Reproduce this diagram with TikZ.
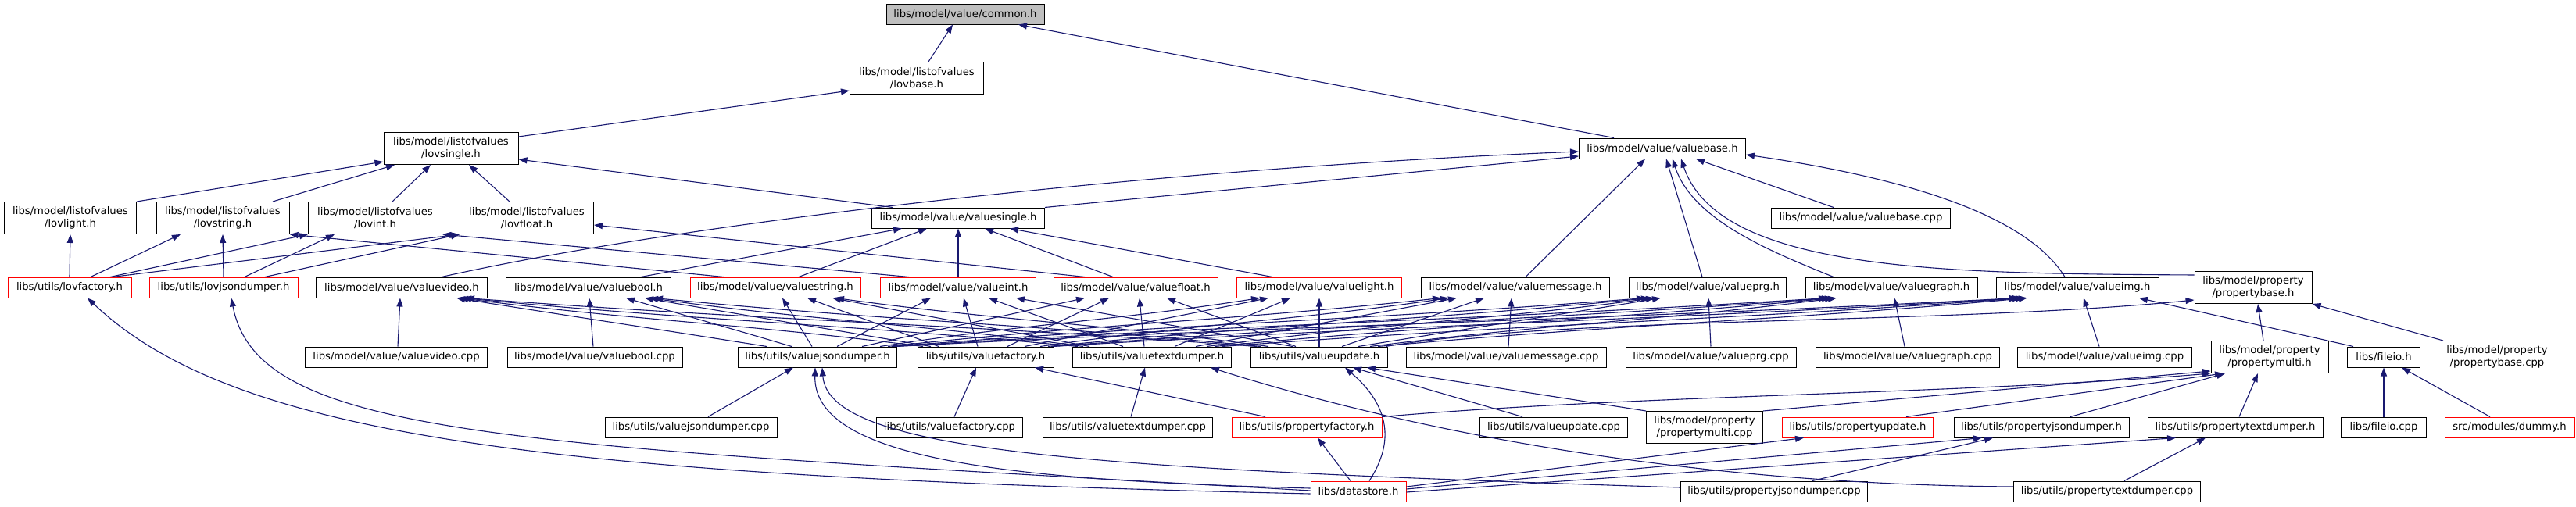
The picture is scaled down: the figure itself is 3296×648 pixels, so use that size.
\documentclass[tikz,border=0pt]{standalone}
\usepackage{fontspec}
\setmainfont{DejaVu Sans}
\usetikzlibrary{arrows.meta}
\definecolor{eblue}{HTML}{191970}
\definecolor{nred}{HTML}{FF0000}
\definecolor{ngray}{HTML}{BFBFBF}
\begin{document}
\begin{tikzpicture}[x=1pt,y=-1pt,
  box/.style={draw=black, line width=1pt, fill=white, inner sep=0pt, minimum height=26pt, font=\fontsize{13.2}{15.5}\selectfont},
  boxtwo/.style={box, minimum height=41pt, align=center},
  redb/.style={draw=nred},
  e/.style={draw=eblue, line width=1.1pt, {Triangle[length=11pt,width=8pt]}-}]
\useasboundingbox (0,0) rectangle (3296,648);
% nodes
\node[box, fill=ngray, minimum width=202pt] (common) at (1235,18) {libs/model/value/common.h};
\node[boxtwo, minimum width=171pt] (lovbase) at (1173,100) {libs/model/listofvalues\\/lovbase.h};
\node[boxtwo, minimum width=172pt] (lovsingle) at (577,190) {libs/model/listofvalues\\/lovsingle.h};
\node[box, minimum width=213pt] (valuebase) at (2127,190) {libs/model/value/valuebase.h};
\node[boxtwo, minimum width=169pt] (lovlight) at (90,279) {libs/model/listofvalues\\/lovlight.h};
\node[boxtwo, minimum width=170pt] (lovstring) at (285,279) {libs/model/listofvalues\\/lovstring.h};
\node[boxtwo, minimum width=171pt] (lovint) at (480,279) {libs/model/listofvalues\\/lovint.h};
\node[boxtwo, minimum width=171pt] (lovfloat) at (674,279) {libs/model/listofvalues\\/lovfloat.h};
\node[box, minimum width=221pt] (vsingle) at (1226,279) {libs/model/value/valuesingle.h};
\node[box, minimum width=229pt] (vbasecpp) at (2381,279) {libs/model/value/valuebase.cpp};
\node[box, redb, minimum width=158pt] (lovfactory) at (89,368) {libs/utils/lovfactory.h};
\node[box, redb, minimum width=190pt] (lovjson) at (286,368) {libs/utils/lovjsondumper.h};
\node[box, minimum width=219pt] (vvideo) at (514,368) {libs/model/value/valuevideo.h};
\node[box, minimum width=211pt] (vbool) at (753,368) {libs/model/value/valuebool.h};
\node[box, redb, minimum width=218pt] (vstring) at (992,368) {libs/model/value/valuestring.h};
\node[box, redb, minimum width=199pt] (vint) at (1226,368) {libs/model/value/valueint.h};
\node[box, redb, minimum width=210pt] (vfloat) at (1453,368) {libs/model/value/valuefloat.h};
\node[box, redb, minimum width=211pt] (vlight) at (1688,368) {libs/model/value/valuelight.h};
\node[box, minimum width=241pt] (vmsg) at (1939,368) {libs/model/value/valuemessage.h};
\node[box, minimum width=201pt] (vprg) at (2185,368) {libs/model/value/valueprg.h};
\node[box, minimum width=220pt] (vgraph) at (2420,368) {libs/model/value/valuegraph.h};
\node[box, minimum width=208pt] (vimg) at (2658,368) {libs/model/value/valueimg.h};
\node[boxtwo, minimum width=150pt] (pbase) at (2883,368) {libs/model/property\\/propertybase.h};
\node[box, minimum width=233pt] (vvideocpp) at (507,457) {libs/model/value/valuevideo.cpp};
\node[box, minimum width=224pt] (vboolcpp) at (761,457) {libs/model/value/valuebool.cpp};
\node[box, minimum width=203pt] (vjson) at (1046,457) {libs/utils/valuejsondumper.h};
\node[box, minimum width=174pt] (vfact) at (1261,457) {libs/utils/valuefactory.h};
\node[box, minimum width=203pt] (vtext) at (1474,457) {libs/utils/valuetextdumper.h};
\node[box, minimum width=175pt] (vupd) at (1688,457) {libs/utils/valueupdate.h};
\node[box, minimum width=256pt] (vmsgcpp) at (1927,457) {libs/model/value/valuemessage.cpp};
\node[box, minimum width=218pt] (vprgcpp) at (2189,457) {libs/model/value/valueprg.cpp};
\node[box, minimum width=235pt] (vgraphcpp) at (2441,457) {libs/model/value/valuegraph.cpp};
\node[box, minimum width=223pt] (vimgcpp) at (2693,457) {libs/model/value/valueimg.cpp};
\node[boxtwo, minimum width=150pt] (pmulti) at (2904,457) {libs/model/property\\/propertymulti.h};
\node[box, minimum width=93pt] (fileio) at (3050,457) {libs/fileio.h};
\node[boxtwo, minimum width=151pt] (pbasecpp) at (3195,457) {libs/model/property\\/propertybase.cpp};
\node[box, minimum width=220pt] (vjsoncpp) at (884,547) {libs/utils/valuejsondumper.cpp};
\node[box, minimum width=187pt] (vfactcpp) at (1215,547) {libs/utils/valuefactory.cpp};
\node[box, minimum width=217pt] (vtextcpp) at (1443,547) {libs/utils/valuetextdumper.cpp};
\node[box, redb, minimum width=192pt] (pfact) at (1672,547) {libs/utils/propertyfactory.h};
\node[box, minimum width=189pt] (vupdcpp) at (1988,547) {libs/utils/valueupdate.cpp};
\node[boxtwo, minimum width=149pt] (pmulticpp) at (2181,547) {libs/model/property\\/propertymulti.cpp};
\node[box, redb, minimum width=193pt] (pupd) at (2377,547) {libs/utils/propertyupdate.h};
\node[box, minimum width=224pt] (pjson) at (2612,547) {libs/utils/propertyjsondumper.h};
\node[box, minimum width=224pt] (ptext) at (2860,547) {libs/utils/propertytextdumper.h};
\node[box, minimum width=109pt] (fileiocpp) at (3050,547) {libs/fileio.cpp};
\node[box, redb, minimum width=166pt] (dummy) at (3211,547) {src/modules/dummy.h};
\node[box, redb, minimum width=122pt] (datastore) at (1738,629) {libs/datastore.h};
\node[box, minimum width=239pt] (pjsoncpp) at (2270,629) {libs/utils/propertyjsondumper.cpp};
\node[box, minimum width=239pt] (ptextcpp) at (2696,629) {libs/utils/propertytextdumper.cpp};
% upper edges
\draw[e] ([xshift=-16pt]common.south) -- ([xshift=15pt]lovbase.north);
\draw[e] ([xshift=68pt]common.south) -- ([xshift=-62pt]valuebase.north);
\draw[e] ([yshift=-16pt]lovbase.west) -- ([yshift=15pt]lovsingle.east);
\draw[e] ([yshift=-17pt]lovsingle.west) -- (lovlight.north east);
\draw[e] ([xshift=-72pt]lovsingle.south) -- ([xshift=64pt]lovstring.north);
\draw[e] ([xshift=-26pt]lovsingle.south) -- ([xshift=22pt]lovint.north);
\draw[e] ([xshift=23pt]lovsingle.south) -- ([xshift=-22pt]lovfloat.north);
\draw[e] ([yshift=-14pt]lovsingle.east) -- ([xshift=-84pt]vsingle.north);
\draw[e] ([yshift=-10pt]valuebase.west) -- (vsingle.north east);
\draw[e] ([yshift=-4pt]valuebase.west) .. controls (1500,215) and (900,280) .. ([xshift=51pt]vvideo.north);
\draw[e] ([xshift=-22pt]valuebase.south) -- ([xshift=13pt]vmsg.north);
\draw[e] ([xshift=5pt]valuebase.south) -- ([xshift=-7pt]vprg.north);
\draw[e] ([xshift=13pt]valuebase.south) .. controls (2165,280) and (2260,320) .. ([xshift=-74pt]vgraph.north);
\draw[e] ([xshift=24pt]valuebase.south) .. controls (2200,350) and (2500,350) .. ([yshift=16pt]pbase.west);
\draw[e] ([xshift=43pt]valuebase.south) -- ([xshift=-35pt]vbasecpp.north);
\draw[e] ([yshift=-8pt]valuebase.east) .. controls (2420,225) and (2590,270) .. ([xshift=-16pt]vimg.north);
% lov edges
\draw[e] (lovlight.south) -- (lovfactory.north);
\draw[e] ([xshift=-54pt]lovstring.south) -- ([xshift=27pt]lovfactory.north);
\draw[e] (lovint.south west) -- ([xshift=52pt]lovfactory.north);
\draw[e] (lovfloat.south west) -- ([xshift=55pt]lovfactory.north);
\draw[e] (lovstring.south) -- (lovjson.north);
\draw[e] ([xshift=-52pt]lovint.south) -- ([xshift=27pt]lovjson.north);
\draw[e] (lovfloat.south west) -- ([xshift=53pt]lovjson.north);
\draw[e] (lovstring.south east) -- ([xshift=-66pt]vstring.north);
\draw[e] (lovint.south east) -- ([xshift=-63pt]vint.north);
\draw[e] ([yshift=-9pt]lovfloat.east) -- ([xshift=-65pt]vfloat.north);
% valuesingle
\draw[e] ([xshift=-72pt]vsingle.south) -- ([xshift=67pt]vbool.north);
\draw[e] ([xshift=-40pt]vsingle.south) -- ([xshift=30pt]vstring.north);
\draw[e] (vsingle.south) -- (vint.north);
\draw[e] ([xshift=34pt]vsingle.south) -- ([xshift=-29pt]vfloat.north);
\draw[e] ([xshift=66pt]vsingle.south) -- ([xshift=-60pt]vlight.north);
% cpp of value types
\draw[e] ([xshift=-2pt]vvideo.south) -- ([xshift=2pt]vvideocpp.north);
\draw[e] ([xshift=1pt]vbool.south) -- ([xshift=-2pt]vboolcpp.north);
\draw[e] ([xshift=-5pt]vmsg.south) -- ([xshift=3pt]vmsgcpp.north);
\draw[e] ([xshift=1pt]vprg.south) -- (vprgcpp.north);
\draw[e] ([xshift=4pt]vgraph.south) -- ([xshift=-4pt]vgraphcpp.north);
\draw[e] ([xshift=8pt]vimg.south) -- ([xshift=-7pt]vimgcpp.north);
\draw[e] ([xshift=79pt]vimg.south) -- ([xshift=-39pt]fileio.north);
\draw[e] ([xshift=6pt]pbase.south) -- ([xshift=-8pt]pmulti.north);
\draw[e] (pbase.south east) -- ([xshift=-69pt]pbasecpp.north);
\draw[e] (fileio.south) -- (fileiocpp.north);
\draw[e] ([xshift=23pt]fileio.south) -- ([xshift=-25pt]dummy.north);
% dumpers/factory/update -> value types
\foreach \u/\a/\l/\b/\c/\v in {
vvideo/70/vjson/-65/132/21, vvideo/74/vfact/-80/237/30, vvideo/78/vtext/-95/315/30, vvideo/82/vupd/-80/405/30,
vbool/48/vjson/-33/71/21, vbool/72/vfact/-70/122/21, vbool/78/vtext/-88/222/30, vbool/84/vupd/-75/310/30,
vstring/9/vjson/-7/13/21, vstring/41/vfact/-60/56/21, vstring/73/vtext/-80/110/21, vstring/77/vupd/-65/222/30,
vint/-35/vjson/25/-40/21, vint/7/vfact/-10/6/21, vint/39/vtext/-37/57/21, vint/74/vupd/-34/118/21,
vfloat/-65/vjson/57/-95/21, vfloat/-34/vfact/28/-43/21, vfloat/5/vtext/-10/2/21, vfloat/40/vupd/-30/55/21,
vlight/-76/vjson/80/-194/30, vlight/-65/vfact/50/-104/21, vlight/-37/vtext/29/-49/21, vlight/0/vupd/0/0/21,
vmsg/-95/vjson/90/-283/30, vmsg/-85/vfact/70/-209/30, vmsg/-75/vtext/56/-111/21, vmsg/-40/vupd/29/-61/21,
vprg/-80/vjson/95/-386/30, vprg/-74/vfact/80/-308/30, vprg/-68/vtext/70/-229/30, vprg/-60/vupd/50/-129/21,
vgraph/-82/vjson/98/-478/30, vgraph/-78/vfact/84/-399/30, vgraph/-74/vtext/80/-317/30, vgraph/-70/vupd/65/-239/30,
vimg/-76/vjson/100/-574/30, vimg/-72/vfact/86/-496/30, vimg/-68/vtext/90/-410/30, vimg/-64/vupd/75/-332/30}
  \draw[e] ([xshift=\a pt]\u.south) .. controls +(\c,\v) and +({-1*(\c)},{-1*(\v)}) .. ([xshift=\b pt]\l.north);
\draw[e] ([yshift=-16pt]pbase.west) .. controls (2500,415) and (2000,405) .. ([xshift=85pt]vupd.north);
% lower edges
\draw[e] ([xshift=-31pt]vjson.south) -- ([xshift=22pt]vjsoncpp.north);
\draw[e] ([xshift=-12pt]vfact.south) -- ([xshift=6pt]vfactcpp.north);
\draw[e] ([xshift=63pt]vfact.south) -- ([xshift=-53pt]pfact.north);
\draw[e] ([xshift=-9pt]vtext.south) -- ([xshift=4pt]vtextcpp.north);
\draw[e] ([xshift=75pt]vtext.south) .. controls (1800,550) and (2150,620) .. ([yshift=6pt]ptextcpp.west);
\draw[e] ([xshift=33pt]vupd.south) .. controls (1790,530) and (1775,580) .. ([xshift=14pt]datastore.north);
\draw[e] ([xshift=43pt]vupd.south) -- ([xshift=-40pt]vupdcpp.north);
\draw[e] ([xshift=61pt]vupd.south) -- (pmulticpp.north west);
\draw[e] ([xshift=14pt]pfact.south) -- ([xshift=-10pt]datastore.north);
\draw[e] (pmulti.south west) .. controls (2500,505) and (2100,505) .. (pfact.north east);
\draw[e] ([yshift=3pt]pmulti.south west) -- (pmulticpp.north east);
\draw[e] ([xshift=-59pt]pmulti.south) -- ([xshift=62pt]pupd.north);
\draw[e] ([xshift=-57pt]pmulti.south) -- ([xshift=37pt]pjson.north);
\draw[e] ([xshift=-15pt]pmulti.south) -- ([xshift=5pt]ptext.north);
\draw[e] ([xshift=-69pt]pupd.south) -- ([yshift=6pt]datastore.east);
\draw[e] ([xshift=-76pt]pjson.south) -- ([yshift=3pt]datastore.east);
\draw[e] ([xshift=-62pt]pjson.south) -- ([xshift=49pt]pjsoncpp.north);
\draw[e] ([xshift=-76pt]ptext.south) -- ([yshift=-1pt]datastore.east);
\draw[e] ([xshift=-38pt]ptext.south) -- ([xshift=22pt]ptextcpp.north);
\draw[e] ([xshift=23pt]lovfactory.south) .. controls (300,560) and (700,610) .. ([yshift=-3pt]datastore.west);
\draw[e] ([xshift=10pt]lovjson.south) .. controls (330,560) and (650,570) .. ([yshift=1pt]datastore.west);
\draw[e] ([xshift=-3pt]vjson.south) .. controls (1040,590) and (1300,615) .. ([yshift=4pt]datastore.west);
\draw[e] ([xshift=6pt]vjson.south) .. controls (1060,580) and (1400,600) .. ([yshift=5pt]pjsoncpp.west);
\end{tikzpicture}
\end{document}
